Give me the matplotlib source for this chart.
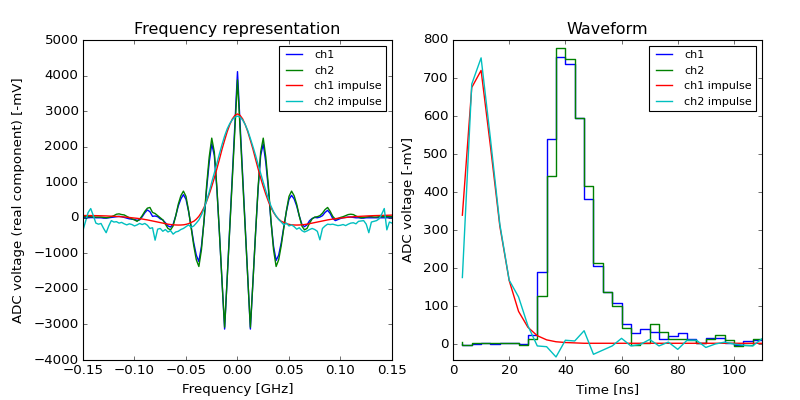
import matplotlib
matplotlib.use('Agg')
import matplotlib.pyplot as plt
import numpy as np

plt.style.use('classic')

# ---- frequency representation (grid step 0.0025 GHz) ----
freq = np.round(np.arange(-0.15, 0.15001, 0.0025), 4)

fr_ch1 = [0, 0, 0, 5, 5, 0, 0, 0, -10, -10,
          0, 10, 20, 30, 40, 30, 10, -10, -30, -40,
          -50, -70, -60, 30, 140, 220, 170, 40, 50, 30,
          -30, -60, -140, -230, -260, -180, 50, 330, 530, 650,
          520, 180, -250, -700, -1050, -1230, -800, -100, 800, 1550,
          2080, 1750, 800, -450, -1800, -3130, -1700, -250, 1200, 2650,
          4110,
          2650, 1200, -250, -1700, -3130, -1800, -450, 800, 1750, 2080,
          1550, 800, -100, -800, -1200, -1050, -700, -250, 180, 520,
          630, 530, 330, 50, -180, -250, -200, -80, -20, 10,
          0, 20, 60, 150, 210, 120, -20, -80, -50, -20,
          0, 10, 20, 20, 10, 0, 0, -10, -10, 0,
          0, 0, 0, 0, 0, 0, 0, 0, 0, 0]

fr_ch2 = [30, 30, 30, 30, 25, 20, 20, 20, 10, 0,
          10, 30, 60, 100, 110, 90, 80, 40, 0, -30,
          -60, -100, -40, 60, 180, 270, 290, 150, 120, 60,
          0, -60, -180, -300, -340, -230, 50, 380, 620, 750,
          600, 200, -280, -780, -1180, -1370, -900, -80, 900, 1700,
          2240, 1850, 850, -450, -1800, -3080, -1700, -300, 1100, 2500,
          3880,
          2500, 1100, -300, -1700, -3080, -1800, -450, 850, 1850, 2240,
          1700, 900, -80, -900, -1370, -1180, -780, -280, 200, 600,
          750, 620, 380, 50, -230, -340, -300, -150, -30, 20,
          30, 60, 130, 230, 290, 180, 40, -40, -20, 10,
          30, 60, 90, 100, 90, 50, 20, 0, 10, 20,
          30, 30, 20, 20, 30, 30, 30, 30, 30, 30]

fr_imp1 = [62, 63, 62, 62, 61, 60, 58, 56, 54, 52,
           48, 45, 42, 38, 33, 28, 22, 15, 8, 0,
           -8, -15, -25, -35, -48, -60, -75, -90, -105, -120,
           -135, -150, -165, -180, -190, -198, -202, -205, -203, -198,
           -185, -165, -130, -100, -40, 40, 150, 290, 460, 660,
           880, 1120, 1380, 1650, 1930, 2180, 2420, 2620, 2780, 2880,
           2920,
           2880, 2780, 2620, 2420, 2180, 1930, 1650, 1380, 1120, 880,
           660, 460, 290, 150, 40, -40, -100, -130, -165, -185,
           -198, -203, -205, -202, -198, -190, -180, -165, -150, -135,
           -120, -105, -90, -75, -60, -48, -35, -25, -15, -8,
           0, 8, 15, 22, 28, 33, 38, 42, 46, 50,
           54, 57, 60, 62, 64, 66, 68, 70, 72, 75]

fr_imp2 = [-350, -100, 150, 260, 60, -150, -180, -160, -300, -420,
           -230, -80, -120, -110, -150, -130, -170, -200, -170, -190,
           -230, -200, -160, -190, -160, -210, -300, -280, -630, -320,
           -300, -380, -330, -400, -360, -460, -400, -380, -330, -300,
           -250, -200, -270, -230, -150, -60, 80, 250, 480, 720,
           1000, 1260, 1530, 1800, 2060, 2300, 2500, 2650, 2760, 2830,
           2860,
           2830, 2750, 2620, 2450, 2230, 2000, 1760, 1500, 1250, 1000,
           760, 530, 330, 170, 50, -50, -120, -200, -150, -230,
           -200, -250, -320, -280, -360, -400, -370, -330, -300, -330,
           -380, -620, -300, -230, -180, -190, -180, -200, -220, -210,
           -190, -220, -180, -150, -140, -170, -100, -90, -80, -180,
           -420, -120, -100, -80, -30, 100, 260, -340, -120, -150]

# ---- waveform (sample period 3.33 ns) ----
t_ns = [3.33, 6.67, 10.0, 13.33, 16.67, 20.0, 23.33, 26.67, 30.0, 33.33,
        36.67, 40.0, 43.33, 46.67, 50.0, 53.33, 56.67, 60.0, 63.33, 66.67,
        70.0, 73.33, 76.67, 80.0, 83.33, 86.67, 90.0, 93.33, 96.67, 100.0,
        103.33, 106.67, 110.0]

wf_ch1 = [0, -3, 0, 3, 0, 3, 3, 0, 25, 189,
          539, 754, 737, 594, 381, 205, 138, 107, 53, 28,
          39, 31, 12, 21, 28, 12, 3, 15, 16, 2,
          -3, 8, 10]

wf_ch2 = [5, -3, 3, 3, 3, 3, 3, -3, 13, 126,
          442, 778, 749, 594, 416, 212, 136, 100, 41, -3,
          2, 52, 31, 12, 12, 10, 3, 14, 24, 10,
          -4, -3, 12]

wf_imp1 = [339, 675, 720, 520, 310, 167, 86, 44, 22, 11,
           6, 4, 3, 2, 2, 2, 2, 2, 2, 2,
           2, 2, 2, 2, 2, 2, 2, 2, 2, 2,
           2, 2, 2]

wf_imp2 = [175, 684, 753, 540, 315, 168, 124, 48, -5, -7,
           -34, 10, 8, 35, -27, -16, -5, 15, -5, -1,
           12, -5, 5, -14, 10, 10, -9, 0, 5, 0,
           -3, -5, 14]

lw = 1.25

fig, (ax1, ax2) = plt.subplots(1, 2, figsize=(10, 5), dpi=80)
fig.patch.set_facecolor('white')
fig.subplots_adjust(left=0.10375, right=0.9525, bottom=0.1, top=0.9, wspace=0.1975)

ax1.plot(freq, fr_ch1, 'b', lw=lw, label='ch1')
ax1.plot(freq, fr_ch2, 'g', lw=lw, label='ch2')
ax1.plot(freq, fr_imp1, 'r', lw=lw, label='ch1 impulse')
ax1.plot(freq, fr_imp2, 'c', lw=lw, label='ch2 impulse')
ax1.set_xlim(-0.15, 0.15)
ax1.set_ylim(-4000, 5000)
ax1.set_xlabel('Frequency [GHz]')
ax1.set_ylabel('ADC voltage (real component) [-mV]', labelpad=7.5)
ax1.set_title('Frequency representation')
ax1.legend(loc='upper right', fontsize='small')

ax2.plot(t_ns, wf_ch1, 'b', lw=lw, drawstyle='steps', label='ch1')
ax2.plot(t_ns, wf_ch2, 'g', lw=lw, drawstyle='steps', label='ch2')
ax2.plot(t_ns, wf_imp1, 'r', lw=lw, label='ch1 impulse')
ax2.plot(t_ns, wf_imp2, 'c', lw=lw, label='ch2 impulse')
ax2.set_xlim(0, 110)
ax2.set_ylim(-42, 800)
ax2.set_xlabel('Time [ns]')
ax2.set_ylabel('ADC voltage [-mV]', labelpad=7.5)
ax2.set_title('Waveform')
ax2.legend(loc='upper right', fontsize='small')

plt.savefig('out.png', dpi=80, facecolor=fig.get_facecolor())
